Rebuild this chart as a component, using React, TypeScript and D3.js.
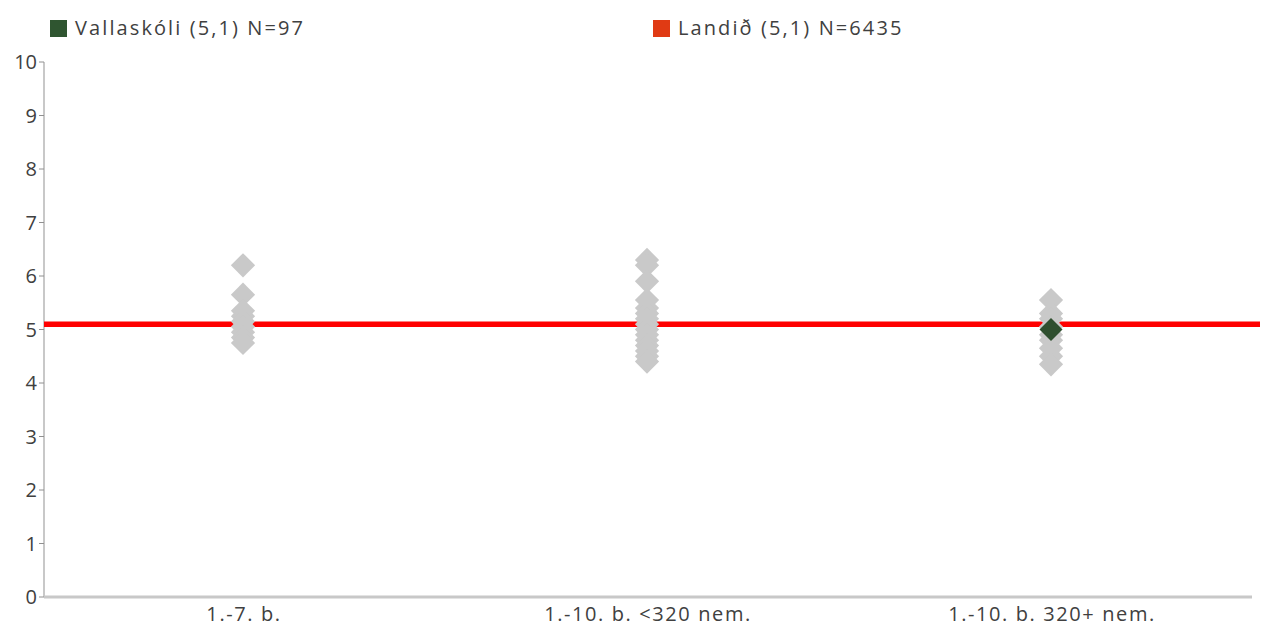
import React, { useEffect, useRef } from "react";
import * as d3 from "d3";

const categories = ["1.-7. b.", "1.-10. b. <320 nem.", "1.-10. b. 320+ nem."];
const schoolsSmall = [6.2, 5.65, 5.35, 5.25, 5.15, 5.05, 4.95, 4.85, 4.75];
const schoolsMid = [6.3, 6.2, 5.9, 5.55, 5.4, 5.3, 5.2, 5.1, 5.0, 4.9, 4.8, 4.7, 4.6, 4.5, 4.4];
const schoolsLarge = [5.55, 5.3, 5.2, 5.05, 4.9, 4.8, 4.65, 4.5, 4.35];
const schoolValues = [schoolsSmall, schoolsMid, schoolsLarge];
const ownSchool = { category: "1.-10. b. 320+ nem.", value: 5.0 };
const national = 5.1;
const yTicks = [0, 1, 2, 3, 4, 5, 6, 7, 8, 9, 10];
const legendItems = [
  { label: "Vallaskóli (5,1) N=97", color: "#2f5530" },
  { label: "Landið (5,1) N=6435", color: "#e03a14" },
];

const W = 1266;
const H = 626;

export default function App() {
  const ref = useRef<SVGSVGElement>(null);

  useEffect(() => {
    const svg = d3.select(ref.current);
    svg.selectAll("*").remove();

    const x = d3.scaleBand().domain(categories).range([41, 1253]);
    const y = d3.scaleLinear().domain([0, 10]).range([597, 62]);
    const font = "'Open Sans', sans-serif";
    const textColor = "#404040";

    // legend
    const lx = [50, 653];
    legendItems.forEach((d, i) => {
      const g = svg.append("g").attr("transform", `translate(${lx[i]},20)`);
      g.append("rect").attr("width", 17).attr("height", 17).attr("fill", d.color);
      g.append("text")
        .attr("x", 25)
        .attr("y", 15)
        .attr("font-family", font)
        .attr("font-size", 20)
        .attr("letter-spacing", 2.1)
        .attr("fill", textColor)
        .text(d.label);
    });

    // axes
    svg.append("line")
      .attr("x1", 44).attr("x2", 44)
      .attr("y1", y(10)).attr("y2", y(0))
      .attr("stroke", "#c8c8c8").attr("stroke-width", 2);
    svg.append("line")
      .attr("x1", 44).attr("x2", 1252)
      .attr("y1", y(0)).attr("y2", y(0))
      .attr("stroke", "#c8c8c8").attr("stroke-width", 3);

    const yt = svg.append("g");
    yt.selectAll("line")
      .data(yTicks)
      .join("line")
      .attr("x1", 39).attr("x2", 44)
      .attr("y1", (d) => y(d)).attr("y2", (d) => y(d))
      .attr("stroke", "#909090").attr("stroke-width", 1);
    yt.selectAll("text")
      .data(yTicks)
      .join("text")
      .attr("x", 37)
      .attr("y", (d) => y(d))
      .attr("dy", "0.35em")
      .attr("text-anchor", "end")
      .attr("font-family", font)
      .attr("font-size", 20)
      .attr("fill", textColor)
      .text((d) => d);

    svg.append("g")
      .selectAll("text")
      .data(categories)
      .join("text")
      .attr("x", (d) => (x(d) ?? 0) + x.bandwidth() / 2 + 1)
      .attr("y", y(0) + 24)
      .attr("text-anchor", "middle")
      .attr("font-family", font)
      .attr("font-size", 20)
      .attr("letter-spacing", 1.6)
      .attr("fill", textColor)
      .text((d) => d);

    // national average line
    svg.append("line")
      .attr("x1", 44).attr("x2", 1260)
      .attr("y1", y(national)).attr("y2", y(national))
      .attr("stroke", "#ff0000").attr("stroke-width", 5.5);

    const diamond = d3.symbol().type(d3.symbolSquare).size(295);
    const points = categories.flatMap((c, i) => schoolValues[i].map((v) => ({ c, v })));
    svg.append("g")
      .selectAll("path")
      .data(points)
      .join("path")
      .attr("d", diamond)
      .attr("fill", "#c9c9c9")
      .attr("transform", (d) => `translate(${(x(d.c) ?? 0) + x.bandwidth() / 2},${y(d.v)}) rotate(45)`);

    svg.append("path")
      .attr("d", d3.symbol().type(d3.symbolSquare).size(265)())
      .attr("fill", "#2f4f2f")
      .attr("transform", `translate(${(x(ownSchool.category) ?? 0) + x.bandwidth() / 2},${y(ownSchool.value)}) rotate(45)`);
  }, []);

  return (
    <svg
      ref={ref}
      width={W}
      height={H}
      style={{ display: "block", position: "absolute", left: 0, top: 0 }}
    />
  );
}
